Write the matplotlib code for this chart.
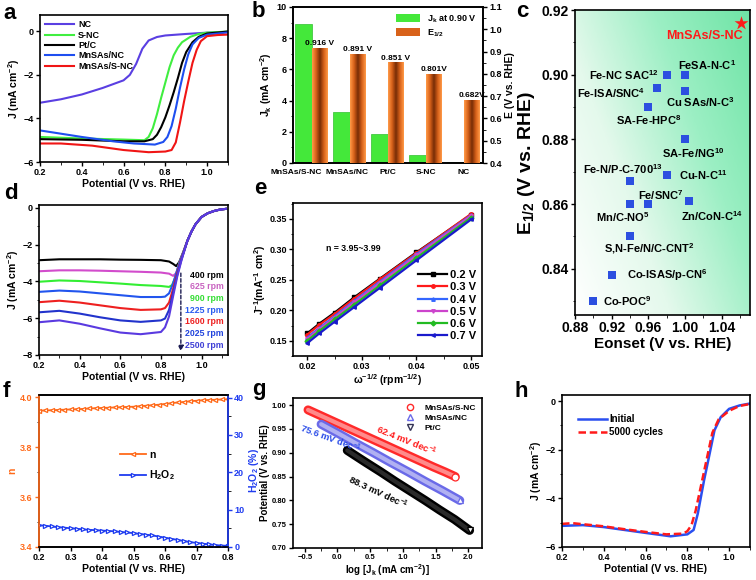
import numpy as np
import matplotlib
matplotlib.use("Agg")
import matplotlib.pyplot as plt
from matplotlib.colors import LinearSegmentedColormap
from matplotlib.patches import Patch
from matplotlib.lines import Line2D
from matplotlib.ticker import MultipleLocator

plt.rcParams['font.family'] = ['Liberation Sans', 'DejaVu Sans']
plt.rcParams['font.weight'] = 'bold'
plt.rcParams['axes.labelweight'] = 'bold'
plt.rcParams['mathtext.fontset'] = 'custom'
plt.rcParams['mathtext.rm'] = 'Liberation Sans:bold'
plt.rcParams['mathtext.it'] = 'Liberation Sans:bold'
plt.rcParams['mathtext.bf'] = 'Liberation Sans:bold'
plt.rcParams['mathtext.default'] = 'bf'
plt.rcParams['axes.linewidth'] = 1.2
plt.rcParams['xtick.major.width'] = 1.0
plt.rcParams['ytick.major.width'] = 1.0
plt.rcParams['xtick.major.size'] = 3
plt.rcParams['ytick.major.size'] = 3
plt.rcParams['xtick.minor.size'] = 1.8
plt.rcParams['ytick.minor.size'] = 1.8
plt.rcParams['xtick.labelsize'] = 6.5
plt.rcParams['ytick.labelsize'] = 6.5
plt.rcParams['axes.labelsize'] = 7.5

# ---------------- data ----------------
# (a) LSV curves
a_nc_v = [0.20, 0.30, 0.40, 0.50, 0.60, 0.63, 0.66, 0.69, 0.72, 0.76, 0.80, 0.90, 1.00, 1.10]
a_nc_j = [-3.28, -3.12, -2.90, -2.60, -2.25, -2.00, -1.50, -0.80, -0.42, -0.26, -0.19, -0.12, -0.06, -0.02]
a_snc_v = [0.20, 0.40, 0.60, 0.70, 0.72, 0.74, 0.76, 0.78, 0.80, 0.82, 0.84, 0.86, 0.88, 0.92, 0.96, 1.00, 1.10]
a_snc_j = [-4.85, -4.92, -4.97, -5.00, -4.85, -4.45, -3.80, -3.05, -2.35, -1.65, -1.10, -0.75, -0.50, -0.25, -0.12, -0.06, -0.01]
a_ptc_v = [0.20, 0.40, 0.60, 0.70, 0.74, 0.76, 0.78, 0.80, 0.82, 0.84, 0.86, 0.88, 0.90, 0.93, 0.96, 1.00, 1.10]
a_ptc_j = [-4.95, -4.98, -5.05, -5.05, -4.95, -4.75, -4.40, -3.95, -3.40, -2.80, -2.15, -1.45, -0.95, -0.50, -0.25, -0.10, -0.01]
a_mnnc_v = [0.20, 0.30, 0.40, 0.55, 0.65, 0.75, 0.79, 0.81, 0.83, 0.85, 0.87, 0.89, 0.91, 0.93, 0.96, 1.00, 1.10]
a_mnnc_j = [-4.55, -4.70, -4.85, -5.05, -5.15, -5.20, -5.08, -4.85, -4.35, -3.55, -2.60, -1.75, -1.05, -0.60, -0.30, -0.15, -0.05]
a_mnsnc_v = [0.20, 0.30, 0.45, 0.60, 0.72, 0.80, 0.83, 0.85, 0.87, 0.89, 0.91, 0.93, 0.95, 0.97, 1.00, 1.05, 1.10]
a_mnsnc_j = [-5.15, -5.15, -5.25, -5.45, -5.55, -5.52, -5.45, -5.10, -4.20, -3.20, -2.30, -1.45, -0.85, -0.45, -0.22, -0.17, -0.15]

# (b) bars
b_cats = ['MnSAs/S-NC', 'MnSAs/NC', 'Pt/C', 'S-NC', 'NC']
b_jk = [8.9, 3.3, 1.85, 0.5, 0.06]
b_e12 = [0.916, 0.891, 0.851, 0.801, 0.682]
b_e12_txt = ['0.916 V', '0.891 V', '0.851 V', '0.801V', '0.682V']

# (c) comparison
c_names = ['FeSA-N-C$^{1}$', 'Fe-NC SAC$^{12}$', 'Fe-ISA/SNC$^{4}$', 'Cu SAs/N-C$^{3}$',
           'SA-Fe-HPC$^{8}$', 'SA-Fe/NG$^{10}$', 'Cu-N-C$^{11}$', 'Fe-N/P-C-700$^{13}$',
           'Mn/C-NO$^{5}$', 'Fe/SNC$^{7}$', 'Zn/CoN-C$^{14}$', 'S,N-Fe/N/C-CNT$^{2}$',
           'Co-ISAS/p-CN$^{6}$', 'Co-POC$^{9}$']
c_eonset = [1.000, 0.980, 0.970, 1.000, 0.960, 1.000, 0.980, 0.940, 0.940, 0.960, 1.004, 0.940, 0.920, 0.900]
c_e12 = [0.900, 0.900, 0.896, 0.895, 0.890, 0.880, 0.869, 0.867, 0.860, 0.860, 0.861, 0.850, 0.838, 0.830]
c_star = (1.061, 0.916)

# (d) rpm curves
d_rpm = ['400 rpm', '625 rpm', '900 rpm', '1225 rpm', '1600 rpm', '2025 rpm', '2500 rpm']
d_v = [[0.20, 0.30, 0.40, 0.50, 0.60, 0.70, 0.80, 0.84, 0.86, 0.875, 0.89, 0.91],
       [0.20, 0.30, 0.40, 0.50, 0.60, 0.70, 0.80, 0.84, 0.86, 0.875, 0.89, 0.91],
       [0.20, 0.30, 0.40, 0.50, 0.60, 0.70, 0.80, 0.84, 0.855, 0.87, 0.89, 0.91],
       [0.20, 0.30, 0.40, 0.50, 0.60, 0.70, 0.80, 0.82, 0.84, 0.86, 0.88, 0.90, 0.91],
       [0.20, 0.30, 0.40, 0.50, 0.60, 0.70, 0.80, 0.82, 0.84, 0.86, 0.88, 0.90, 0.91],
       [0.20, 0.30, 0.40, 0.50, 0.60, 0.70, 0.80, 0.82, 0.84, 0.86, 0.88, 0.90, 0.91],
       [0.20, 0.30, 0.40, 0.50, 0.60, 0.70, 0.80, 0.82, 0.84, 0.86, 0.88, 0.90, 0.91]]
d_j = [[-2.85, -2.80, -2.80, -2.80, -2.82, -2.83, -2.85, -2.92, -3.05, -3.17, -2.95, -2.40],
       [-3.45, -3.40, -3.40, -3.42, -3.45, -3.48, -3.52, -3.58, -3.70, -3.55, -3.00, -2.42],
       [-4.02, -3.95, -3.98, -4.05, -4.12, -4.20, -4.25, -4.30, -4.20, -3.80, -3.05, -2.44],
       [-4.57, -4.50, -4.55, -4.65, -4.75, -4.85, -4.85, -4.83, -4.65, -4.10, -3.40, -2.72, -2.46],
       [-5.13, -5.05, -5.15, -5.30, -5.45, -5.55, -5.52, -5.45, -5.15, -4.40, -3.55, -2.80, -2.48],
       [-5.68, -5.60, -5.75, -5.95, -6.12, -6.20, -6.12, -6.02, -5.55, -4.60, -3.65, -2.85, -2.50],
       [-6.22, -6.12, -6.30, -6.55, -6.78, -6.87, -6.75, -6.50, -5.90, -4.80, -3.75, -2.90, -2.52]]
d_tail_v = [0.93, 0.95, 0.97, 1.00, 1.03, 1.06, 1.09, 1.12]
d_tail_j = [-1.80, -1.30, -0.90, -0.50, -0.30, -0.18, -0.10, -0.06]

# (e) Koutecky-Levich
e_x = [0.02, 0.02222, 0.025, 0.02857, 0.03333, 0.04, 0.05]
e_labels = ['0.2 V', '0.3 V', '0.4 V', '0.5 V', '0.6 V', '0.7 V']
e_y = [[0.162, 0.178, 0.196, 0.221, 0.252, 0.295, 0.357],
       [0.160, 0.176, 0.194, 0.219, 0.251, 0.294, 0.358],
       [0.155, 0.171, 0.190, 0.215, 0.247, 0.292, 0.356],
       [0.153, 0.169, 0.188, 0.213, 0.245, 0.290, 0.355],
       [0.150, 0.166, 0.185, 0.209, 0.241, 0.286, 0.352],
       [0.146, 0.162, 0.181, 0.205, 0.237, 0.282, 0.349]]

# (f) n and H2O2
f_v = [0.20, 0.22, 0.24, 0.26, 0.28, 0.30, 0.32, 0.34, 0.36, 0.38, 0.40, 0.42, 0.44, 0.46, 0.48, 0.50,
       0.52, 0.54, 0.56, 0.58, 0.60, 0.62, 0.64, 0.66, 0.68, 0.70, 0.72, 0.74, 0.76, 0.78, 0.80]
f_n = [3.947, 3.948, 3.949, 3.950, 3.951, 3.952, 3.953, 3.954, 3.956, 3.957, 3.958, 3.959, 3.960, 3.961,
       3.962, 3.963, 3.965, 3.967, 3.969, 3.971, 3.974, 3.977, 3.980, 3.982, 3.985, 3.987, 3.989, 3.990,
       3.991, 3.992, 3.993]
f_h2o2 = [5.8, 5.7, 5.5, 5.3, 5.2, 5.0, 4.9, 4.7, 4.6, 4.5, 4.4, 4.3, 4.2, 4.0, 3.9, 3.7, 3.5, 3.3,
          3.1, 2.8, 2.5, 2.2, 1.9, 1.6, 1.3, 1.1, 0.9, 0.7, 0.5, 0.4, 0.3]

# (g) Tafel
g_red_x = [-0.45, -0.29, -0.13, 0.03, 0.19, 0.35, 0.51, 0.67, 0.83, 0.99, 1.15, 1.31, 1.47, 1.64, 1.80]
g_red_y = [0.99, 0.98, 0.97, 0.96, 0.95, 0.94, 0.93, 0.92, 0.91, 0.90, 0.89, 0.88, 0.87, 0.86, 0.85]
g_blue_x = [-0.25, 0.02, 0.28, 0.55, 0.81, 1.08, 1.34, 1.61, 1.87]
g_blue_y = [0.96, 0.94, 0.92, 0.90, 0.88, 0.86, 0.84, 0.82, 0.80]
g_blk_x = [0.15, 0.43, 0.66, 0.88, 1.11, 1.34, 1.56, 1.79, 2.02]
g_blk_y = [0.905, 0.88, 0.86, 0.84, 0.82, 0.80, 0.78, 0.76, 0.737]

# (h) stability
h_init_v = [0.20, 0.30, 0.40, 0.50, 0.60, 0.72, 0.80, 0.83, 0.85, 0.88, 0.90, 0.93, 0.96, 1.00, 1.05, 1.10]
h_init_j = [-5.13, -5.10, -5.18, -5.30, -5.42, -5.56, -5.48, -5.30, -4.63, -3.26, -2.44, -1.20, -0.66, -0.32, -0.18, -0.10]
h_cyc_v = [0.20, 0.25, 0.40, 0.50, 0.60, 0.70, 0.78, 0.80, 0.82, 0.84, 0.87, 0.89, 0.92, 0.95, 1.00, 1.05, 1.10]
h_cyc_j = [-5.05, -5.02, -5.15, -5.27, -5.38, -5.48, -5.45, -5.35, -5.10, -4.50, -3.30, -2.50, -1.30, -0.75, -0.40, -0.20, -0.12]

fig = plt.figure(figsize=(7.56, 5.80), dpi=100)
W, H = 756.0, 580.0


def add_ax(x0, y0, x1, y1):
    return fig.add_axes([x0 / W, 1 - y1 / H, (x1 - x0) / W, (y1 - y0) / H])


def style(ax, right=False):
    ax.tick_params(direction='out', which='both', top=False, right=right, pad=1.5)
    for lab in ax.get_xticklabels() + ax.get_yticklabels():
        lab.set_fontweight('bold')


# ---------------- (a) ----------------
ax = add_ax(40, 15, 228, 162)
ax.plot(a_nc_v, a_nc_j, color='#5a3fe2', lw=1.5, label='NC')
ax.plot(a_snc_v, a_snc_j, color='#40ee40', lw=1.5, label='S-NC')
ax.plot(a_ptc_v, a_ptc_j, color='black', lw=1.5, label='Pt/C')
ax.plot(a_mnnc_v, a_mnnc_j, color='#1e4ef0', lw=1.5, label='MnSAs/NC')
ax.plot(a_mnsnc_v, a_mnsnc_j, color='#f01515', lw=1.5, label='MnSAs/S-NC')
ax.set_xlim(0.2, 1.1)
ax.set_ylim(-6, 0.75)
ax.set_xticks([0.2, 0.4, 0.6, 0.8, 1.0])
ax.set_yticks([0, -2, -4, -6])
ax.xaxis.set_minor_locator(MultipleLocator(0.1))
ax.set_xlabel('Potential (V vs. RHE)', labelpad=1)
ax.set_ylabel('J (mA cm$^{-2}$)', labelpad=1)
ax.legend(loc='upper left', fontsize=6.5, frameon=False, handlelength=3.2,
          labelspacing=0.15, borderaxespad=0.2, handletextpad=0.4)
style(ax)

# ---------------- (b) ----------------
ax = add_ax(293, 7, 483, 163)
ax2 = ax.twinx()
xb = np.arange(len(b_cats))
ax.bar(xb - 0.45, b_jk, width=0.45, align='edge', color='#44e83a', edgecolor='#30c030', lw=0.5, zorder=2)
ob = ax2.bar(xb, np.array(b_e12) - 0.4, bottom=0.4, width=0.4, align='edge', color='#e8742a', zorder=2)
og = LinearSegmentedColormap.from_list('og', ['#7a2e06', '#d8621a', '#ff9a48'])
grad = np.abs(np.linspace(-1, 1, 64))[None, :]
for bar in ob:
    x0, y0 = bar.get_x(), bar.get_y()
    im = ax2.imshow(grad, extent=[x0, x0 + bar.get_width(), y0, y0 + bar.get_height()],
                    cmap=og, aspect='auto', zorder=3)
    im.set_clip_path(bar)
for i, t in enumerate(b_e12_txt):
    ax2.text(xb[i] + 0.2, b_e12[i] + 0.003, t, ha='center', va='bottom', fontsize=6, fontweight='bold', zorder=5)
ax.set_xlim(-0.5, 4.5)
ax2.set_xlim(-0.5, 4.5)
ax.set_ylim(0, 10)
ax2.set_ylim(0.4, 1.1)
# label positions as in the figure: first two labels pushed apart
ax.set_xticks([-0.42, 0.93, 2, 3, 4])
ax.set_xticklabels(b_cats, fontsize=6, fontweight='bold')
ax.yaxis.set_minor_locator(MultipleLocator(1))
ax2.yaxis.set_minor_locator(MultipleLocator(0.05))
ax.set_ylabel('J$_k$ (mA cm$^{-2}$)', labelpad=2)
ax2.set_ylabel('E (V vs. RHE)', labelpad=2)
ax2.legend([Patch(facecolor='#44e83a'), Patch(facecolor='#d8621a')], ['J$_k$ at 0.90 V', 'E$_{1/2}$'],
           loc='upper right', fontsize=6.5, frameon=False, handlelength=2.6, handleheight=1.0,
           labelspacing=0.3, borderaxespad=0.3)
style(ax)
style(ax2, right=True)
ax2.tick_params(left=False)
ax.tick_params(axis='x', length=0, pad=4)

# ---------------- (c) ----------------
ax = add_ax(575, 10, 750, 315)
yy, xx = np.mgrid[0:1:120j, 0:1:120j]
bg = 0.7 * xx + 0.45 * yy
gcm = LinearSegmentedColormap.from_list('gc', ['#ffffff', '#e4f9ec', '#9cefc4', '#6fe4a6'])
ax.imshow(bg, extent=[0, 1, 0, 1], transform=ax.transAxes, origin='lower', cmap=gcm,
          vmin=0, vmax=1.15, aspect='auto', zorder=0)
ax.scatter(c_eonset, c_e12, marker='s', s=34, color='#2c4fe0', zorder=3, linewidths=0)
ax.scatter([c_star[0]], [c_star[1]], marker='*', s=110, color='#ff1a1a', zorder=3, linewidths=0)
c_off = [(-7, 10, 'left'), (-8, 0, 'right'), (-12, -5, 'right'), (-19, -11, 'left'),
         (-32, -13, 'left'), (-23, -14, 'left'), (12, 0, 'left'), (-7, 12, 'center'),
         (-7, -13, 'center'), (13, 9, 'center'), (23, -15, 'center'), (19, -12, 'center'),
         (15, 0, 'left'), (10, 0, 'left')]
for i, name in enumerate(c_names):
    dx, dy, ha = c_off[i]
    ax.annotate(name, (c_eonset[i], c_e12[i]), xytext=(dx * 0.72, dy * 0.72), textcoords='offset points',
                ha=ha, va='center', fontsize=8, fontweight='bold', zorder=4)
ax.annotate('MnSAs/S-NC', c_star, xytext=(-36 * 0.72, -13 * 0.72), textcoords='offset points',
            ha='center', va='center', fontsize=9, fontweight='bold', color='#ff1a1a', zorder=4)
ax.set_xlim(0.88, 1.071)
ax.set_ylim(0.8257, 0.92)
ax.set_xticks([0.88, 0.92, 0.96, 1.00, 1.04])
ax.set_yticks([0.84, 0.86, 0.88, 0.90, 0.92])
ax.xaxis.set_minor_locator(MultipleLocator(0.02))
ax.yaxis.set_minor_locator(MultipleLocator(0.01))
ax.tick_params(labelsize=10)
ax.set_xlabel('Eonset (V vs. RHE)', fontsize=11, labelpad=1)
ax.set_ylabel('E$_{1/2}$ (V vs. RHE)', fontsize=14, labelpad=3)
style(ax)

# ---------------- (d) ----------------
ax = add_ax(39, 205, 228, 355)
d_cols = ['black', '#d24ccc', '#33ee33', '#2255ee', '#ee2020', '#2233cc', '#5a3ae0']
d_txt_cols = ['black', '#c862c0', '#33dd33', '#2a5cf0', '#ee2020', '#2244dd', '#3f3fd6']
for i in range(len(d_rpm)):
    ax.plot(list(d_v[i]) + d_tail_v, list(d_j[i]) + d_tail_j, color=d_cols[i], lw=1.5)
d_lab_y = [-3.7, -4.3, -4.95, -5.6, -6.2, -6.85, -7.5]
for i, t in enumerate(d_rpm):
    ax.text(1.11, d_lab_y[i], t, ha='right', va='center', fontsize=6.3, fontweight='bold', color=d_txt_cols[i])
ax.annotate('', xy=(0.898, -7.95), xytext=(0.898, -3.4),
            arrowprops=dict(arrowstyle='-|>', color='#1a1a50', lw=1.0, linestyle=(0, (2.5, 1.5)),
                            mutation_scale=8))
ax.set_xlim(0.2, 1.13)
ax.set_ylim(-8, 0.15)
ax.set_xticks([0.2, 0.4, 0.6, 0.8, 1.0])
ax.set_yticks([0, -2, -4, -6, -8])
ax.xaxis.set_minor_locator(MultipleLocator(0.1))
ax.yaxis.set_minor_locator(MultipleLocator(1))
ax.set_xlabel('Potential (V vs. RHE)', labelpad=1)
ax.set_ylabel('J (mA cm$^{-2}$)', labelpad=1)
style(ax)

# ---------------- (e) ----------------
ax = add_ax(293, 203, 482, 356)
e_cols = ['black', '#ff1a1a', '#3366ff', '#cc44cc', '#22bb22', '#1a1acc']
e_mk = ['s', 'o', '^', 'v', 'D', '<']
for i in range(len(e_labels)):
    ax.plot(e_x, e_y[i], color=e_cols[i], lw=1.6, marker=e_mk[i], ms=2.5, label=e_labels[i])
ax.text(0.0235, 0.302, 'n = 3.95~3.99', fontsize=6.3, fontweight='bold', va='center')
ax.set_xlim(0.0174, 0.052)
ax.set_ylim(0.125, 0.376)
ax.set_xticks([0.02, 0.03, 0.04, 0.05])
ax.set_xticklabels(['0.02', '0.03', '0.04', '0.05'])
ax.set_yticks([0.15, 0.20, 0.25, 0.30, 0.35])
ax.xaxis.set_minor_locator(MultipleLocator(0.005))
ax.yaxis.set_minor_locator(MultipleLocator(0.025))
ax.set_xlabel(r'$\omega^{-1/2}$ (rpm$^{-1/2}$)', labelpad=1)
ax.set_ylabel('J$^{-1}$(mA$^{-1}$ cm$^{2}$)', labelpad=1)
ax.legend(loc='lower right', bbox_to_anchor=(1.0, 0.06), fontsize=8, frameon=False, handlelength=2.6,
          labelspacing=0.2, handletextpad=0.3, borderaxespad=0.1)
style(ax)

# ---------------- (f) ----------------
ax = add_ax(39, 395, 228, 547)
ax2 = ax.twinx()
c_or, c_bl = '#ff6a1a', '#1f3cf0'
l1, = ax.plot(f_v, f_n, color=c_or, lw=1.3, marker='<', ms=3, mfc='white', mew=0.9, label='n')
l2, = ax2.plot(f_v, f_h2o2, color=c_bl, lw=1.3, marker='>', ms=3, mfc='white', mew=0.9, label='H$_2$O$_2$')
ax.set_xlim(0.2, 0.8)
ax.set_ylim(3.4, 4.01)
ax2.set_ylim(0, 40.7)
ax.set_xticks([0.2, 0.3, 0.4, 0.5, 0.6, 0.7, 0.8])
ax.set_yticks([3.4, 3.6, 3.8, 4.0])
ax2.set_yticks([0, 10, 20, 30, 40])
ax.yaxis.set_minor_locator(MultipleLocator(0.1))
ax2.yaxis.set_minor_locator(MultipleLocator(5))
ax.set_xlabel('Potential (V vs. RHE)', labelpad=1)
ax.set_ylabel('n', color=c_or, labelpad=2)
ax2.set_ylabel('H$_2$O$_2$ (%)', color=c_bl, labelpad=2)
style(ax)
style(ax2, right=True)
ax.tick_params(axis='y', colors=c_or)
ax2.tick_params(axis='y', colors=c_bl)
ax2.spines['left'].set_color(c_or)
ax2.spines['right'].set_color(c_bl)
ax.legend([l1, l2], ['n', 'H$_2$O$_2$'], loc='upper left', bbox_to_anchor=(0.38, 0.7), fontsize=7.5,
          frameon=False, handlelength=2.5, labelspacing=0.8, handletextpad=0.3)

# ---------------- (g) ----------------
ax = add_ax(293, 398, 482, 548)
for gx, gy, c_out, c_in, mk, fc in [(g_red_x, g_red_y, '#ff2a2a', '#ff8a8a', 'o', 'white'),
                                     (g_blue_x, g_blue_y, '#6a6ae8', '#b0b0f2', '^', 'white'),
                                     (g_blk_x, g_blk_y, 'black', '#2a2a2a', 'v', 'white')]:
    ax.plot(gx, gy, color=c_out, lw=6.5, solid_capstyle='round', zorder=2)
    ax.plot(gx, gy, color=c_in, lw=3.0, solid_capstyle='round', zorder=3)
    ax.plot(gx[-1:], gy[-1:], ls='none', marker=mk, ms=5, mfc=fc, mec=c_out, mew=0.9, zorder=4)
ax.text(1.05, 0.925, '62.4 mV dec$^{-1}$', color='#ff1a1a', rotation=-22, ha='center', va='center',
        fontsize=6.8, fontweight='bold')
ax.text(-0.1, 0.929, '75.6 mV dec$^{-1}$', color='#2a4ce8', rotation=-20, ha='center', va='center',
        fontsize=6.8, fontweight='bold')
ax.text(0.62, 0.817, '88.3 mV dec$^{-1}$', color='black', rotation=-25, ha='center', va='center',
        fontsize=6.8, fontweight='bold')
g_handles = [Line2D([], [], ls='none', marker='o', ms=4.5, mfc='none', mec='#ff2a2a'),
             Line2D([], [], ls='none', marker='^', ms=4.5, mfc='none', mec='#6a6ae8'),
             Line2D([], [], ls='none', marker='v', ms=4.5, mfc='none', mec='#333355')]
ax.legend(g_handles, ['MnSAs/S-NC', 'MnSAs/NC', 'Pt/C'], loc='upper right', fontsize=6, frameon=False,
          labelspacing=0.25, handletextpad=0.8, borderaxespad=0.3)
ax.set_xlim(-0.68, 2.21)
ax.set_ylim(0.70, 1.015)
ax.set_xticks([-0.5, 0.0, 0.5, 1.0, 1.5, 2.0])
ax.set_yticks([0.70, 0.75, 0.80, 0.85, 0.90, 0.95, 1.00])
ax.xaxis.set_minor_locator(MultipleLocator(0.25))
ax.tick_params(labelsize=5.5)
ax.set_xlabel('log [J$_k$ (mA cm$^{-2}$)]', fontsize=7, labelpad=1)
ax.set_ylabel('Potential (V vs. RHE)', fontsize=7, labelpad=1)
style(ax)

# ---------------- (h) ----------------
ax = add_ax(562, 395, 750, 547)
ax.plot(h_init_v, h_init_j, color='#2a4ff0', lw=1.8, label='Initial')
ax.plot(h_cyc_v, h_cyc_j, color='#ff1a1a', lw=1.8, ls=(0, (3, 1.5)), label='5000 cycles')
ax.set_xlim(0.2, 1.1)
ax.set_ylim(-6, 0.25)
ax.set_xticks([0.2, 0.4, 0.6, 0.8, 1.0])
ax.set_yticks([0, -2, -4, -6])
ax.xaxis.set_minor_locator(MultipleLocator(0.1))
ax.yaxis.set_minor_locator(MultipleLocator(1))
ax.set_xlabel('Potential (V vs. RHE)', labelpad=1)
ax.set_ylabel('J (mA cm$^{-2}$)', labelpad=1)
ax.legend(loc='upper left', bbox_to_anchor=(0.04, 0.93), fontsize=7, frameon=False, handlelength=3.0,
          labelspacing=0.3, handletextpad=0.2)
style(ax)

# panel letters
for t, x, y in [('a', 3, 19), ('b', 252, 17), ('c', 516, 17), ('d', 4, 199),
                ('e', 254, 194), ('f', 3, 397), ('g', 252, 395), ('h', 515, 397)]:
    fig.text(x / W, 1 - y / H, t, fontsize=16, fontweight='bold', va='baseline', ha='left')

fig.savefig('out.png', dpi=100)
